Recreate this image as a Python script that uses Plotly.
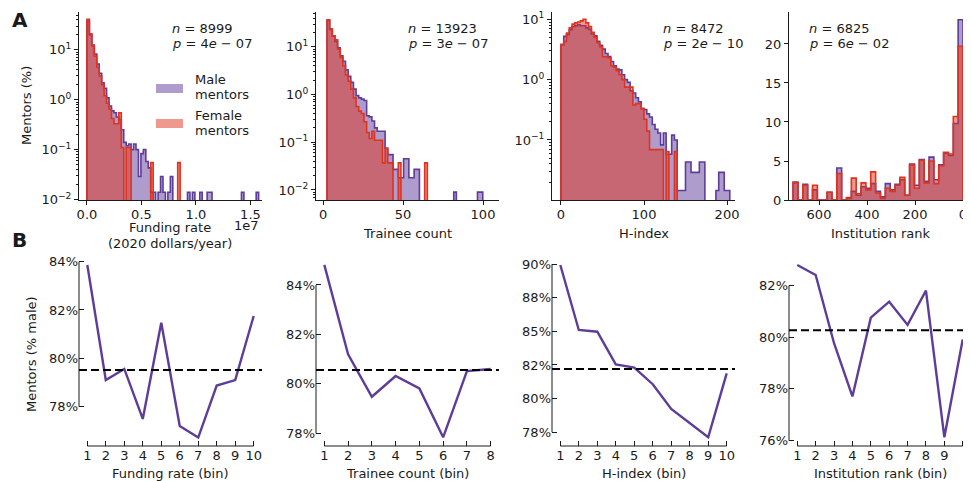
import numpy as np
import plotly.graph_objects as go

# The page body has an 8px margin, so the figure is drawn 8px smaller and
# reference pixel positions are shifted by 8px.
OFF = 8
W, H = 971 - OFF, 481 - OFF

# ---------------- data ----------------
# Panel A1: funding rate histogram (units of 1e7 dollars/year), % of mentors per bin
fund_bin_start = 0.0
fund_bin_width = 0.0225
fund_male = [38, 20, 12.5, 8.3, 5.2, 3.4, 2.2, 1.7, 1.1, 0.75,
             0.6, 0.55, 0.45, 0.4, 0.25, 0.14, 0.12, 0.13, 0.1, 0.13,
             0.1, 0.029, 0.083, 0.1, 0.058, 0.043, 0.014, 0.014, 0, 0.014,
             0.029, 0.014, 0, 0.014, 0.029, 0, 0, 0, 0, 0,
             0, 0.014, 0, 0.014, 0, 0, 0.014, 0, 0, 0.014,
             0.014, 0, 0, 0, 0, 0, 0, 0, 0, 0,
             0, 0, 0, 0.014, 0, 0, 0, 0, 0, 0.014, 0]
fund_female = [41, 21, 12, 7.5, 4.5, 3.0, 2.0, 1.2, 0.85, 0.65,
               0.42, 0.33, 0.33, 0.55, 0.11, 0, 0.11, 0.11, 0, 0,
               0, 0, 0, 0, 0, 0, 0.055, 0, 0, 0,
               0, 0, 0, 0, 0, 0, 0, 0.055]

# Panel A2: trainee count histogram
train_bin_start = 2.5
train_bin_width = 1.65
train_male = [36, 23, 17, 13, 9.5, 6.5, 5, 3.3, 2.4, 1.8,
              1.3, 0.95, 0.85, 0.8, 0.75, 0.36, 0.34, 0.28, 0.2, 0.17,
              0.17, 0.17, 0.075, 0.055, 0.055, 0.027, 0.027, 0.018, 0.018, 0.045,
              0.045, 0.018, 0.018, 0.027, 0.027, 0, 0, 0, 0, 0,
              0, 0, 0, 0, 0, 0, 0, 0, 0.009, 0,
              0, 0, 0, 0, 0, 0, 0, 0.009, 0.009, 0]
train_female = [37, 24, 17, 14, 9, 6, 4, 2.6, 1.9, 1.3,
                0.85, 0.56, 0.45, 0.4, 0.27, 0.16, 0.12, 0.17, 0.11, 0.11,
                0.11, 0.037, 0.075, 0.037, 0.037, 0, 0, 0.037, 0, 0,
                0, 0, 0, 0, 0, 0, 0, 0.037]

# Panel A3: H-index histogram
hidx_bin_start = 0.0
hidx_bin_width = 3.333
hidx_male = [3.8, 5.2, 5.6, 6.7, 7.6, 7.8, 8.1, 7.8, 7.8, 7.2,
             6.8, 5.7, 5.3, 4.3, 3.7, 3.2, 2.7, 2.4, 2.0, 1.7,
             1.5, 1.45, 1.2, 1.0, 0.9, 0.65, 0.6, 0.5, 0.43, 0.33,
             0.32, 0.27, 0.24, 0.18, 0.15, 0.13, 0.083, 0.13, 0.058, 0.058,
             0.12, 0.1, 0.0145, 0.0145, 0.0145, 0.043, 0.043, 0.029, 0.029, 0.029,
             0.043, 0.043, 0, 0, 0, 0, 0.0145, 0.029, 0.029, 0.0145, 0.0145]
hidx_female = [3.8, 4.3, 5.9, 7.2, 8.3, 8.7, 9.0, 9.4, 10.0, 8.7,
               7.6, 6.1, 5.0, 4.1, 3.5, 2.4, 2.4, 2.3, 1.7, 1.6,
               1.4, 1.2, 1.0, 0.75, 0.75, 0.75, 0.38, 0.4, 0.4, 0.33,
               0.22, 0.14, 0.069, 0.069, 0.069, 0.069, 0.069, 0, 0.064, 0,
               0, 0.064]

# Panel A4: institution rank histogram (bins listed from rank 708 down to 0)
rank_max = 708
rank_nbins = 35
rank_male = [2.3, 0, 2.0, 0, 1.3, 0, 0, 1.0, 0, 4.1, 0, 0.2, 1.1, 0.6, 1.7, 1.5, 2.1, 1.1,
             0.4, 2.1, 1.3, 2.0, 2.6, 0.6, 4.6, 1.9, 5.2, 2.4, 5.5, 2.6, 4.5, 6.0, 5.7, 9.8, 23.1]
rank_female = [2.2, 0, 1.9, 0, 1.9, 0, 0, 1.0, 0, 3.4, 0, 0.3, 2.8, 0.8, 2.2, 1.3, 3.6, 0.9,
               0.2, 1.5, 1.1, 1.9, 2.9, 0.6, 4.5, 1.5, 5.1, 2.2, 5.0, 2.1, 4.4, 6.1, 5.9, 10.7, 19.7]

stats_n = ["8999", "13923", "8472", "6825"]
stats_p = ["4", "3", "2", "6"]
stats_pexp = ["07", "07", "10", "02"]

# Panel B: % male mentors per bin
fund_bins = list(range(1, 11))
fund_pct_male = [83.86, 79.1, 79.56, 77.49, 81.47, 77.2, 76.72, 78.87, 79.1, 81.75]
fund_mean = 79.52
train_bins = list(range(1, 9))
train_pct_male = [84.81, 81.2, 79.48, 80.32, 79.82, 77.84, 80.52, 80.6]
train_mean = 80.56
hidx_bins = list(range(1, 11))
hidx_pct_male = [89.93, 85.1, 84.97, 82.55, 82.3, 81.07, 79.23, 78.2, 77.13, 81.88]
hidx_mean = 82.2
rank_bins = list(range(1, 11))
rank_pct_male = [82.8, 82.41, 79.77, 77.71, 80.76, 81.38, 80.48, 81.81, 76.13, 79.92]
rank_mean = 80.27

# ---------------- styling ----------------
FONT = "DejaVu Sans"
TXT = "#1a1a1a"
MALE_EDGE = "#5e3c99"
MALE_FILL = "rgba(94,60,153,0.5)"
FEM_EDGE = "#e0321c"
FEM_FILL = "rgba(224,50,28,0.5)"
LINE_C = "#5e3c99"


def px(x):
    return (x - OFF) / W


def py(y):
    return 1 - (y - OFF) / H


fig = go.Figure()

top_x = [(79, 262), (316, 499), (552, 735), (789, 971)]
top_y = (12, 200)
bot_y = (258, 446)


def step_xy(edges, vals, floor):
    xs = [edges[0]]
    ys = [floor]
    for i, v in enumerate(vals):
        xs.append(edges[i])
        ys.append(v if v > 0 else floor)
    xs.append(edges[len(vals)])
    ys.append(ys[-1])
    xs.append(edges[len(vals)])
    ys.append(floor)
    return xs, ys


def add_hist(idx, edges_m, vals_m, edges_f, vals_f, floor):
    for edges, vals, fc, lc in [(edges_m, vals_m, MALE_FILL, MALE_EDGE),
                                (edges_f, vals_f, FEM_FILL, FEM_EDGE)]:
        xs, ys = step_xy(edges, vals, floor)
        fig.add_trace(go.Scatter(
            x=xs, y=ys, mode="lines", line=dict(color=lc, width=1.6, shape="hv"),
            fill="toself", fillcolor=fc, hoverinfo="skip", showlegend=False,
            xaxis=f"x{idx}", yaxis=f"y{idx}"))


def edges_for(start, width, n):
    return [start + width * i for i in range(n + 1)]


add_hist(1, edges_for(fund_bin_start, fund_bin_width, len(fund_male)), fund_male,
         edges_for(fund_bin_start, fund_bin_width, len(fund_female)), fund_female, 1e-5)
add_hist(2, edges_for(train_bin_start, train_bin_width, len(train_male)), train_male,
         edges_for(train_bin_start, train_bin_width, len(train_female)), train_female, 1e-5)
add_hist(3, edges_for(hidx_bin_start, hidx_bin_width, len(hidx_male)), hidx_male,
         edges_for(hidx_bin_start, hidx_bin_width, len(hidx_female)), hidx_female, 1e-5)
rank_edges = list(np.linspace(rank_max, 0, rank_nbins + 1))
add_hist(4, rank_edges, rank_male, rank_edges, rank_female, 0)

# bottom lines
bottom = [(5, fund_bins, fund_pct_male, fund_mean),
          (6, train_bins, train_pct_male, train_mean),
          (7, hidx_bins, hidx_pct_male, hidx_mean),
          (8, rank_bins, rank_pct_male, rank_mean)]
for idx, xb, yb, m in bottom:
    fig.add_trace(go.Scatter(x=xb, y=yb, mode="lines", line=dict(color=LINE_C, width=2.4),
                             hoverinfo="skip", showlegend=False,
                             xaxis=f"x{idx}", yaxis=f"y{idx}"))

layout = dict(width=W, height=H, margin=dict(l=0, r=0, t=0, b=0, pad=0, autoexpand=False),
              paper_bgcolor="white", plot_bgcolor="white",
              font=dict(family=FONT, size=13, color=TXT), showlegend=False)

tickfont = dict(family=FONT, size=13, color=TXT)
common_top = dict(showline=True, linecolor=TXT, linewidth=1, ticks="outside", ticklen=4,
                  tickwidth=1, tickcolor=TXT, showgrid=False, zeroline=False, tickfont=tickfont,
                  automargin=False)


def minor_vals(lo, hi):
    out = []
    for e in range(lo, hi + 1):
        for d in range(2, 10):
            out.append(d * 10 ** e)
    return out


def logticks(exps):
    vals = [10.0 ** e for e in exps]
    txt = [f"10<sup>{'−' + str(-e) if e < 0 else e}</sup>" for e in exps]
    return vals, txt


xr_top = [[-0.073, 1.606], [-4.4, 110], [-10.8, 209.6], [725, -33.3]]
yr_top = [[-2.01, 1.76], [-2.21, 1.73], [-1.995, 1.12], [0, 24.1]]
xticks_top = [([0, 0.5, 1.0, 1.5], ["0.0", "0.5", "1.0", "1.5"]),
              ([0, 50, 100], ["0", "50", "100"]),
              ([0, 100, 200], ["0", "100", "200"]),
              ([600, 400, 200, 0], ["600", "400", "200", "0"])]
yexps = [[-2, -1, 0, 1], [-2, -1, 0, 1], [-1, 0, 1], None]

for i in range(4):
    n = i + 1
    xd = [px(top_x[i][0]), min(1.0, px(top_x[i][1]))]
    yd = [py(top_y[1]), py(top_y[0])]
    xa = dict(common_top, domain=xd, range=xr_top[i], anchor=f"y{n}",
              ticklabelstandoff=-2,
              tickmode="array", tickvals=xticks_top[i][0], ticktext=xticks_top[i][1])
    ya = dict(common_top, domain=yd, anchor=f"x{n}")
    if yexps[i] is not None:
        tv, tt = logticks(yexps[i])
        ya.update(type="log", range=yr_top[i], tickmode="array", tickvals=tv, ticktext=tt,
                  minor=dict(tickmode="array", tickvals=minor_vals(-3, 1), ticks="outside",
                             ticklen=2.5, tickwidth=0.8, tickcolor=TXT, showgrid=False))
    else:
        ya.update(range=yr_top[i], tickmode="array", tickvals=[0, 5, 10, 15, 20])
    layout[f"xaxis{n}"] = xa
    layout[f"yaxis{n}"] = ya

xr_bot = [[0.55, 10.45], [0.65, 8.35], [0.55, 10.45], [0.55, 10.45]]
yr_bot = [[76.37, 84.15], [77.49, 85.09], [76.48, 90.45], [75.79, 83.07]]
yticks_bot = [([78, 80, 82, 84], ["78%", "80%", "82%", "84%"]),
              ([78, 80, 82, 84], ["78%", "80%", "82%", "84%"]),
              ([77.5, 80, 82.5, 85, 87.5, 90], ["78%", "80%", "82%", "85%", "88%", "90%"]),
              ([76, 78, 80, 82], ["76%", "78%", "80%", "82%"])]
shapes = []
for i in range(4):
    n = i + 5
    xd = [px(top_x[i][0]), min(1.0, px(top_x[i][1]))]
    yd = [py(bot_y[1]), py(bot_y[0])]
    xb = bottom[i][1]
    layout[f"xaxis{n}"] = dict(domain=xd, range=xr_bot[i], anchor=f"y{n}", showline=False,
                               ticks="inside", ticklen=5, tickwidth=1, tickcolor=TXT,
                               showgrid=False, zeroline=False, tickfont=tickfont,
                               automargin=False,
                               tickmode="array", tickvals=xb, ticktext=[str(v) for v in xb])
    layout[f"yaxis{n}"] = dict(domain=yd, range=yr_bot[i], anchor=f"x{n}", showline=False,
                               ticks="inside", ticklen=5, tickwidth=1, tickcolor=TXT,
                               showgrid=False, zeroline=False, tickfont=tickfont,
                               automargin=False,
                               tickmode="array", tickvals=yticks_bot[i][0],
                               ticktext=yticks_bot[i][1])
    # trimmed spines
    shapes.append(dict(type="line", xref=f"x{n} domain", yref=f"y{n}", x0=0, x1=0,
                       y0=yticks_bot[i][0][0], y1=yticks_bot[i][0][-1],
                       line=dict(color=TXT, width=1)))
    shapes.append(dict(type="line", xref=f"x{n}", yref=f"y{n} domain", x0=xb[0], x1=xb[-1],
                       y0=0, y1=0, line=dict(color=TXT, width=1)))
    # mean dashed line
    shapes.append(dict(type="line", xref=f"x{n} domain", yref=f"y{n}", x0=0, x1=1,
                       y0=bottom[i][3], y1=bottom[i][3],
                       line=dict(color="black", width=2, dash="8px,4px")))

# legend patches
shapes.append(dict(type="rect", xref="paper", yref="paper", x0=px(156), x1=px(183),
                   y0=py(93), y1=py(84), fillcolor=MALE_FILL, line=dict(width=0)))
shapes.append(dict(type="rect", xref="paper", yref="paper", x0=px(156), x1=px(183),
                   y0=py(128), y1=py(119), fillcolor=FEM_FILL, line=dict(width=0)))
layout["shapes"] = shapes

ann = []


def A(text, x, y, size=13, xanchor="center", yanchor="middle", angle=0, bold=False):
    if bold:
        text = f"<b>{text}</b>"
    ann.append(dict(text=text, x=px(x), y=py(y), xref="paper", yref="paper",
                    xanchor=xanchor, yanchor=yanchor, showarrow=False, textangle=angle,
                    font=dict(family=FONT, size=size, color=TXT)))


A("A", 10, 20, size=20, xanchor="left", bold=True)
A("B", 10, 240, size=20, xanchor="left", bold=True)
A("Mentors (%)", 26, 106, angle=-90)
A("Mentors (% male)", 31, 354, angle=-90)
A("Funding rate", 170, 228)
A("(2020 dollars/year)", 170, 243)
A("1e7", 261, 225, xanchor="right")
A("Trainee count", 407.5, 233)
A("H-index", 643.5, 233)
A("Institution rank", 880, 233)
A("Funding rate (bin)", 170.5, 473)
A("Trainee count (bin)", 407.5, 473)
A("H-index (bin)", 643.5, 473)
A("Institution rank (bin)", 880, 473)

A("Male", 193, 80, xanchor="left")
A("mentors", 193, 95, xanchor="left")
A("Female", 193, 115, xanchor="left")
A("mentors", 193, 130, xanchor="left")

stat_x = [170, 406, 661, 807]
for i in range(4):
    A(f"<i>n</i> = {stats_n[i]}", stat_x[i], 28, xanchor="left")
    A(f"<i>p</i> = {stats_p[i]}<i>e</i> − {stats_pexp[i]}", stat_x[i], 44, xanchor="left")

layout["annotations"] = ann
fig.update_layout(**layout)
fig.write_html("out.html")
